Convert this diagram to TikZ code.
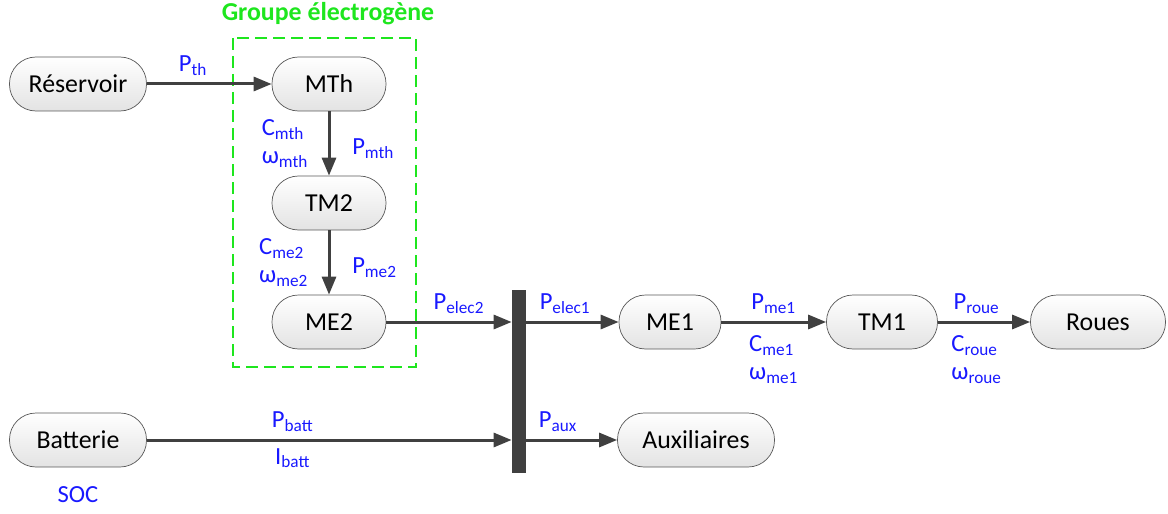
\documentclass[tikz,border=0pt]{standalone}
\usepackage{fontspec}
\setmainfont{Carlito}
\usetikzlibrary{positioning,arrows.meta}
\definecolor{fleche}{HTML}{404040}
\definecolor{vert}{RGB}{30,230,30}
\definecolor{bleu}{RGB}{25,25,255}

\begin{document}
\begin{tikzpicture}[on grid,auto,
    bloc/.style={draw=gray!70!black, rounded corners=0.53cm, top color=white, bottom color=gray!22,
      minimum width=2.28cm, minimum height=1.08cm, inner sep=0pt, font=\fontsize{14.7}{17}\selectfont},
    lbl/.style={text=bleu, font=\fontsize{14}{16}\selectfont, align=left, inner sep=1pt},
    fl/.style={-{Triangle[length=0.36cm,width=0.28cm]}, line width=0.06cm, color=fleche}]
  \useasboundingbox (0,0) rectangle (23.36,-10.28);
  \node[bloc, minimum width=2.74cm] (res) at (1.56,-1.68) {Réservoir};
  \node[bloc] (mth) [right=5.02cm of res] {MTh};
  \node[bloc] (tm2) [below=2.38cm of mth] {TM2};
  \node[bloc] (me2) [below=2.38cm of tm2] {ME2};
  \node[fill=fleche, minimum width=0.28cm, minimum height=3.66cm, inner sep=0pt] (bus) at (10.38,-7.63) {};
  \node[bloc, minimum width=2.04cm] (me1) [right=6.82cm of me2] {ME1};
  \node[bloc, minimum width=2.22cm] (tm1) [right=4.24cm of me1] {TM1};
  \node[bloc, minimum width=2.7cm] (roues) [right=4.32cm of tm1] {Roues};
  \node[bloc, minimum width=2.74cm] (batt) [below=7.12cm of res] {Batterie};
  \node[bloc, minimum width=3.14cm] (aux) [right=12.36cm of batt] {Auxiliaires};
  \node[lbl] (soc) [below=1.1cm of batt] {SOC};
  % groupe electrogene
  \draw[vert, line width=0.04cm, dash pattern=on 0.24cm off 0.12cm] (4.66,-0.76) rectangle (8.32,-7.34);
  \node[text=vert, font=\bfseries\fontsize{14.7}{17}\selectfont] (titre) at (6.56,-0.28) {Groupe électrogène};
  \path[fl]
    (res) edge node[lbl, above, pos=0.37, yshift=0.1cm] {P\textsubscript{th}} (mth)
    (mth) edge node[lbl, left, xshift=-0.35cm] {C\textsubscript{mth}\\ω\textsubscript{mth}}
               node[lbl, right, xshift=0.4cm, yshift=-0.1cm] {P\textsubscript{mth}} (tm2)
    (tm2) edge node[lbl, left, xshift=-0.35cm] {C\textsubscript{me2}\\ω\textsubscript{me2}}
               node[lbl, right, xshift=0.4cm, yshift=-0.1cm] {P\textsubscript{me2}} (me2)
    (me2) edge node[lbl, above, pos=0.58, yshift=0.1cm] {P\textsubscript{elec2}} (me2 -| bus.west)
    (me1 -| bus.east) edge node[lbl, above, pos=0.42, yshift=0.1cm] {P\textsubscript{elec1}} (me1)
    (me1) edge node[lbl, above, yshift=0.1cm] {P\textsubscript{me1}}
               node[lbl, below, yshift=-0.2cm] {C\textsubscript{me1}\\ω\textsubscript{me1}} (tm1)
    (tm1) edge node[lbl, above, pos=0.42, yshift=0.1cm] {P\textsubscript{roue}}
               node[lbl, below, pos=0.42, yshift=-0.2cm] {C\textsubscript{roue}\\ω\textsubscript{roue}} (roues)
    (batt) edge node[lbl, above, pos=0.4, yshift=0.1cm] {P\textsubscript{batt}}
                node[lbl, below, pos=0.4, yshift=-0.1cm] {I\textsubscript{batt}} (batt -| bus.west)
    (aux -| bus.east) edge node[lbl, above, pos=0.35, yshift=0.1cm] {P\textsubscript{aux}} (aux)
    ; %end path
\end{tikzpicture}
\end{document}
